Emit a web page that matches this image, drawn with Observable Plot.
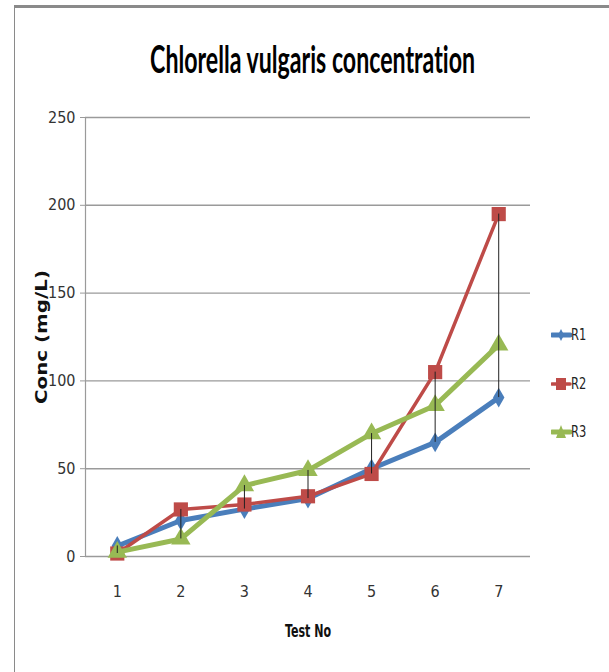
<!DOCTYPE html>
<html>
<head>
<meta charset="utf-8">
<script src="https://cdn.jsdelivr.net/npm/d3@7"></script>
<script src="https://cdn.jsdelivr.net/npm/@observablehq/plot@0.6"></script>
<style>
  html, body { margin: 0; padding: 0; background: #fff; }
  #wrap { position: relative; width: 609px; height: 672px; overflow: hidden; background: #fff; }
  #borderTop { position: absolute; left: 14px; top: 5px; width: 595px; height: 3px; background: #8a8a8a; }
  #borderLeft { position: absolute; left: 14px; top: 5px; width: 1px; height: 667px; background: #8a8a8a; }
  #title { position: absolute; left: 8px; top: 35px; width: 609px; text-align: center; white-space: nowrap; }
  #title span { display: inline-block; font-family: "Lato", "DejaVu Sans Condensed", sans-serif; font-weight: bold; font-size: 38px; color: #000; transform-origin: center center; font-variant-ligatures: none; }
  #chart { position: absolute; left: 0; top: 95px; }
  #legend { position: absolute; left: 551px; top: 0; }
  .li { position: absolute; left: 0; height: 20px; white-space: nowrap; }
  .li svg { position: absolute; left: 0; top: 0; }
  .li span { position: absolute; left: 20px; top: 0; font-family: "DejaVu Sans Condensed", sans-serif; font-size: 15px; line-height: 20px; color: #222; display: inline-block; transform: scaleX(0.85); transform-origin: left center; }
</style>
</head>
<body>
<div id="wrap">
  <div id="borderTop"></div>
  <div id="borderLeft"></div>
  <div id="title"><span id="titleText">Chlorella vulgaris concentration</span></div>
  <div id="chart"></div>
  <div id="legend"></div>
</div>
<script>
const titleText = "Chlorella vulgaris concentration";
const xLabel = "Test No";
const yLabel = "Conc (mg/L)";
const tests = [1, 2, 3, 4, 5, 6, 7];
const yTicks = [0, 50, 100, 150, 200, 250];
const seriesNames = ["R1", "R2", "R3"];
const seriesColors = ["#4a7ebb", "#be4b48", "#98b954"];
const r1 = [6, 20.5, 27, 33, 50, 65, 90.5];
const r2 = [1.7, 26.8, 29.6, 34.3, 47, 105, 195];
const r3 = [2.5, 10, 40.4, 49, 70, 86, 120.5];

const seriesValues = [r1, r2, r3];
const data = seriesValues.map((vals, s) => tests.map((t, i) => ({test: t, value: vals[i], series: seriesNames[s]})));
const hiLo = tests.map((t, i) => ({
  test: t,
  hi: d3.max(seriesValues, v => v[i]),
  lo: d3.min(seriesValues, v => v[i])
}));

const narrow = '"DejaVu Sans Condensed", sans-serif';
const widths = [5, 3.5, 5];
const symbols = ["diamond", "square", "triangle"];
const radii = [6, 8, 7.2];

const marks = [
  Plot.gridY(yTicks, {stroke: "#9a9a9a", strokeOpacity: 1, strokeWidth: 1.4}),
  Plot.ruleX([0.5], {stroke: "#9a9a9a", strokeWidth: 1.2}),
  Plot.axisY(yTicks, {tickSize: 5, tickPadding: 5, stroke: "#9a9a9a", fill: "#333", fontSize: 16, fontFamily: narrow, label: null}),
  Plot.axisX(tests, {tickSize: 0, tickPadding: 29, fill: "#333", fontSize: 16, fontFamily: narrow, label: null, tickFormat: d => String(d)}),
  Plot.text([yLabel], {frameAnchor: "left", textAnchor: "middle", dx: -43, rotate: -90, fontWeight: "bold", fontSize: 15, fontFamily: "DejaVu Sans", fill: "#111"}),
  Plot.text([xLabel], {frameAnchor: "bottom", textAnchor: "middle", dy: 80, fontWeight: "bold", fontSize: 17, fontFamily: narrow, fill: "#111"})
];
data.forEach((d, s) => {
  marks.push(Plot.line(d, {x: "test", y: "value", stroke: seriesColors[s], strokeWidth: widths[s], strokeLinejoin: "round", strokeLinecap: "round"}));
  marks.push(Plot.dot(d, {x: "test", y: "value", symbol: symbols[s], r: radii[s], fill: seriesColors[s], stroke: null}));
});
marks.push(Plot.ruleX(hiLo, {x: "test", y1: "lo", y2: "hi", stroke: "#222", strokeWidth: 1}));

const chart = Plot.plot({
  width: 609,
  height: 577,
  marginLeft: 85,
  marginRight: 79,
  marginTop: 22,
  marginBottom: 116,
  x: {domain: [0.5, 7.5], axis: null},
  y: {domain: [0, 250], axis: null},
  style: {background: "transparent", overflow: "visible"},
  marks
});
document.getElementById("chart").appendChild(chart);

// Fit axis titles to the reference's stretched text lengths
chart.querySelectorAll("text").forEach(t => {
  if (t.textContent === yLabel) { t.setAttribute("textLength", 134); t.setAttribute("lengthAdjust", "spacingAndGlyphs"); }
  if (t.textContent === xLabel) { t.setAttribute("textLength", 46); t.setAttribute("lengthAdjust", "spacingAndGlyphs"); }
});

// Title: fit width like the reference
const tspan = document.getElementById("titleText");
tspan.textContent = titleText;
const w = tspan.getBoundingClientRect().width;
tspan.style.transform = `scaleX(${325 / w})`;

// Legend
const legend = document.getElementById("legend");
const legendY = [325, 374, 422];
seriesNames.forEach((name, s) => {
  const item = document.createElement("div");
  item.className = "li";
  item.style.top = legendY[s] + "px";
  const c = seriesColors[s];
  let marker;
  if (s === 0) marker = `<path d="M10,4 L13,10 L10,16 L7,10 Z" fill="${c}"/>`;
  else if (s === 1) marker = `<rect x="5" y="4" width="10" height="12" fill="${c}"/>`;
  else marker = `<path d="M10,3 L15,16 L5,16 Z" fill="${c}"/>`;
  item.innerHTML = `<svg width="21" height="20"><line x1="1" y1="10" x2="19" y2="10" stroke="${c}" stroke-width="${widths[s]}" stroke-linecap="round"/>${marker}</svg><span>${name}</span>`;
  legend.appendChild(item);
});
</script>
</body>
</html>
